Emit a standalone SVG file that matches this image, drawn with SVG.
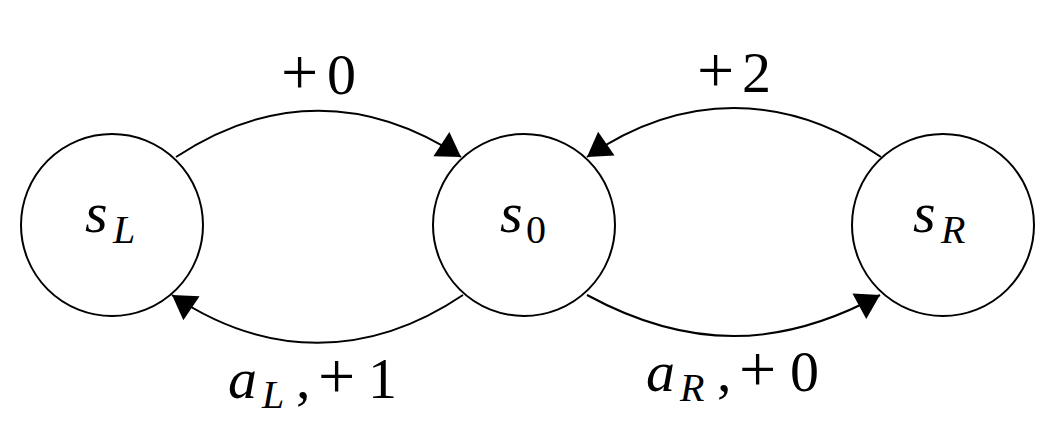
<svg xmlns="http://www.w3.org/2000/svg" width="1059" height="445" viewBox="0 0 1059 445">
<style>
.node circle{fill:#fff;stroke:#000;stroke-width:2}
.edge{fill:none;stroke:#000;stroke-width:2}
text{font-family:'Liberation Serif',serif !important;fill:#000}
</style>
<defs>
<marker id="arr" markerUnits="userSpaceOnUse" viewBox="-24 -15 25 30" markerWidth="25" markerHeight="30" refX="0" refY="0" orient="auto">
<path d="M0,0 L-23.5,-14.5 L-23.5,14.5 Z" fill="#000"/>
</marker>
</defs>
<rect width="1059" height="445" fill="#fff"/>
<g id="connectors">
<path class="edge" d="M176,157 C269.6,95.2 367.4,95.2 461,157" marker-end="url(#arr)"/>
<path class="edge" d="M463,295 C368.6,358.7 266.4,358.7 172,295" marker-end="url(#arr)"/>
<path class="edge" d="M881,157 C786.3,91.6 681.7,91.6 587,157" marker-end="url(#arr)"/>
<path class="edge" d="M587,295 C687.8,349.7 779.2,349.7 880,295" marker-end="url(#arr)"/>
</g>
<g id="node-sL" class="node">
<circle cx="112" cy="225" r="91"/>
<text x="85" y="232" font-size="58" style="font-family:'Liberation Serif',serif !important;font-style:italic">s</text>
<text x="113" y="243" font-size="40" style="font-family:'Liberation Serif',serif !important;font-style:italic">L</text>
</g>
<g id="node-s0" class="node">
<circle cx="524" cy="225" r="91"/>
<text x="500" y="232" font-size="58" style="font-family:'Liberation Serif',serif !important;font-style:italic">s</text>
<text x="526" y="243" font-size="40" style="font-family:'Liberation Serif',serif !important">0</text>
</g>
<g id="node-sR" class="node">
<circle cx="943" cy="225" r="91"/>
<text x="913" y="232" font-size="58" style="font-family:'Liberation Serif',serif !important;font-style:italic">s</text>
<text x="941" y="243" font-size="40" style="font-family:'Liberation Serif',serif !important;font-style:italic">R</text>
</g>
<g id="labels">
<text x="281" y="94" font-size="66" style="font-family:'Liberation Serif',serif !important">+</text>
<text x="327" y="94" font-size="58" style="font-family:'Liberation Serif',serif !important">0</text>
<text x="697" y="92" font-size="66" style="font-family:'Liberation Serif',serif !important">+</text>
<text x="742" y="92" font-size="58" style="font-family:'Liberation Serif',serif !important">2</text>
<text x="228" y="398" font-size="58" style="font-family:'Liberation Serif',serif !important;font-style:italic">a</text>
<text x="262" y="408" font-size="40" style="font-family:'Liberation Serif',serif !important;font-style:italic">L</text>
<text x="296" y="398" font-size="58" style="font-family:'Liberation Serif',serif !important">,</text>
<text x="318" y="398" font-size="66" style="font-family:'Liberation Serif',serif !important">+</text>
<text x="368" y="398" font-size="58" style="font-family:'Liberation Serif',serif !important">1</text>
<text x="646" y="391" font-size="58" style="font-family:'Liberation Serif',serif !important;font-style:italic">a</text>
<text x="680" y="401" font-size="40" style="font-family:'Liberation Serif',serif !important;font-style:italic">R</text>
<text x="717" y="391" font-size="58" style="font-family:'Liberation Serif',serif !important">,</text>
<text x="739" y="391" font-size="66" style="font-family:'Liberation Serif',serif !important">+</text>
<text x="790" y="391" font-size="58" style="font-family:'Liberation Serif',serif !important">0</text>
</g>
</svg>
